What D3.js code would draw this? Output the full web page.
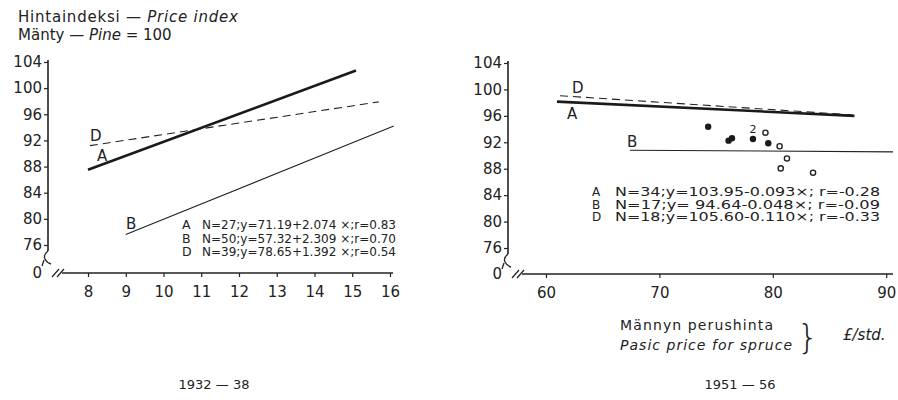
<!DOCTYPE html>
<meta charset="utf-8">
<style>
body { margin: 0; background: #fff; }
svg { font-family: "DejaVu Sans", sans-serif; fill: #222; }
.tick line { stroke: #222; stroke-width: 1.2px; }
.axisline { stroke: #222; stroke-width: 1.6px; fill: none; }
.lineA { stroke: #1a1a1a; stroke-width: 2.6px; fill: none; }
.lineB { stroke: #222; stroke-width: 1.1px; fill: none; }
.lineD { stroke: #222; stroke-width: 1.1px; fill: none; stroke-dasharray: 8,5; }
.it { font-style: italic; }
</style>
<body>
<svg id="graph" width="898" height="400"></svg>
<script src="https://d3js.org/d3.v7.min.js"></script>
<script>

// ---- data: left panel (1932-38) ----
var leftTicksX = [8, 9, 10, 11, 12, 13, 14, 15, 16];
var leftTicksY = [76, 80, 84, 88, 92, 96, 100, 104];
var leftLineA = [[8.0, 87.5], [15.1, 102.7]];
var leftLineB = [[9.0, 77.6], [16.1, 94.2]];
var leftLineD = [[8.05, 91.2], [15.7, 97.9]];
var leftEq = [
  ["A", "N=27;y=71.19+2.074 ×;r=0.83"],
  ["B", "N=50;y=57.32+2.309 ×;r=0.70"],
  ["D", "N=39;y=78.65+1.392 ×;r=0.54"]
];

// ---- data: right panel (1951-56) ----
var rightTicksX = [60, 70, 80, 90];
var rightTicksY = [76, 80, 84, 88, 92, 96, 100, 104];
var rightLineA = [[60.97, 98.15], [87.2, 96.0]];
var rightLineB = [[67.4, 90.8], [90.6, 90.55]];
var rightLineD = [[61.24, 99.05], [87.0, 96.15]];
var filledPts = [[74.3, 94.35], [76.1, 92.25], [76.4, 92.6], [78.25, 92.5], [79.6, 91.85]];
var openPts = [[79.35, 93.45], [80.6, 91.4], [81.25, 89.55], [80.7, 88.05], [83.55, 87.4]];
var rightEq = [
  ["A", "N=34;y=103.95-0.093×;  r=-0.28"],
  ["B", "N=17;y= 94.64-0.048×;  r=-0.09"],
  ["D", "N=18;y=105.60-0.110×;  r=-0.33"]
];

var svg = d3.select("#graph");

function panel(o) {
  var x = d3.scaleLinear().domain(o.xdom).range(o.xr);
  var y = d3.scaleLinear().domain([76, 104]).range(o.yr);
  var g = svg.append("g");

  // y axis
  var ya = g.append("g")
      .attr("transform", "translate(" + o.xr[0] + ",0)")
      .call(d3.axisLeft(y).tickValues(o.ty).tickSize(4).tickPadding(2));
  ya.select(".domain").remove();
  ya.selectAll("text").style("font-size", "15px").style("font-family", "DejaVu Sans").style("fill", "#222");
  g.append("path").attr("class", "axisline")
      .attr("d", "M" + o.xr[0] + "," + (y(104) - 2) + "V" + (y(76) + 6));
  // axis break on y
  var bx = o.xr[0], by = y(76) + 6;
  g.append("path").attr("class", "axisline").style("stroke-width", 1.3)
      .attr("d", "M" + bx + "," + by + " q-5,4 -3,8 q2,4 6,5 M" + (bx - 4) + "," + (by + 9) + " l-2,6");
  g.append("text").attr("x", bx - 6).attr("y", o.y0 + 5)
      .attr("text-anchor", "end").style("font-size", "15px").text("0");

  // x axis
  var xa = g.append("g")
      .attr("transform", "translate(0," + o.y0 + ")")
      .call(d3.axisBottom(x).tickValues(o.tx).tickSize(4).tickPadding(9));
  xa.select(".domain").remove();
  xa.selectAll("text").style("font-size", "15px").style("font-family", "DejaVu Sans").style("fill", "#222");
  g.append("path").attr("class", "axisline")
      .attr("d", "M" + (o.xr[0] + 14) + "," + o.y0 + "H" + o.xr[1]);
  // break marks on x
  g.append("path").attr("class", "axisline").style("stroke-width", 1.2)
      .attr("d", "M" + (o.xr[0] + 4) + "," + (o.y0 + 4) + " l7,-8 M" + (o.xr[0] + 9) + "," + (o.y0 + 4) + " l7,-8");

  var line = d3.line().x(function(d) { return x(d[0]); }).y(function(d) { return y(d[1]); });
  g.append("path").datum(o.A).attr("class", "lineA").attr("d", line);
  g.append("path").datum(o.B).attr("class", "lineB").attr("d", line);
  g.append("path").datum(o.D).attr("class", "lineD").attr("d", line);

  return {g: g, x: x, y: y};
}

// left panel
var L = panel({
  xdom: [6.94, 16.08], xr: [48, 393], yr: [245, 62], y0: 273,
  tx: leftTicksX, ty: leftTicksY,
  A: leftLineA, B: leftLineB, D: leftLineD
});
L.g.append("text").attr("x", 90).attr("y", 141).style("font-size", "15px").text("D");
L.g.append("text").attr("x", 97).attr("y", 161).style("font-size", "15px").text("A");
L.g.append("text").attr("x", 126).attr("y", 229).style("font-size", "15px").text("B");

L.g.selectAll(".eqrow").data(leftEq).enter().append("g").each(function(d, i) {
  var r = d3.select(this);
  r.append("text").attr("x", 182).attr("y", 229 + i * 13.5).style("font-size", "12.5px").text(d[0]);
  r.append("text").attr("x", 202).attr("y", 229 + i * 13.5).style("font-size", "12.5px")
      .attr("textLength", 194).attr("lengthAdjust", "spacingAndGlyphs").text(d[1]);
});

// title
var t1 = svg.append("text").attr("x", 18).attr("y", 22).style("font-size", "15px")
    .attr("textLength", 220);
t1.append("tspan").text("Hintaindeksi — ");
t1.append("tspan").attr("class", "it").text("Price  index");
var t2 = svg.append("text").attr("x", 18).attr("y", 40).style("font-size", "15px");
t2.append("tspan").text("Mänty —  ");
t2.append("tspan").attr("class", "it").text("Pine");
t2.append("tspan").text("  = 100");

// right panel
var R = panel({
  xdom: [56.65, 90.6], xr: [508, 893], yr: [248, 63], y0: 274,
  tx: rightTicksX, ty: rightTicksY,
  A: rightLineA, B: rightLineB, D: rightLineD
});
R.g.append("text").attr("x", 572).attr("y", 93).style("font-size", "15px").text("D");
R.g.append("text").attr("x", 567).attr("y", 119).style("font-size", "15px").text("A");
R.g.append("text").attr("x", 627).attr("y", 147).style("font-size", "15px").text("B");

R.g.selectAll(".fp").data(filledPts).enter().append("circle")
    .attr("cx", function(d) { return R.x(d[0]); })
    .attr("cy", function(d) { return R.y(d[1]); })
    .attr("r", 3.2).style("fill", "#1a1a1a");
R.g.selectAll(".op").data(openPts).enter().append("circle")
    .attr("cx", function(d) { return R.x(d[0]); })
    .attr("cy", function(d) { return R.y(d[1]); })
    .attr("r", 2.6).style("fill", "#fff").style("stroke", "#222").style("stroke-width", 1.4);
R.g.append("text").attr("x", R.x(78.25)).attr("y", R.y(92.5) - 6)
    .attr("text-anchor", "middle").style("font-size", "11px").text("2");

R.g.selectAll(".eqrow").data(rightEq).enter().append("g").each(function(d, i) {
  var r = d3.select(this);
  r.append("text").attr("x", 592).attr("y", 196 + i * 12.5).style("font-size", "12px").text(d[0]);
  r.append("text").attr("x", 615).attr("y", 196 + i * 12.5).style("font-size", "12px")
      .attr("textLength", 265).attr("lengthAdjust", "spacingAndGlyphs").text(d[1]);
});

// x-axis captions
svg.append("text").attr("x", 620).attr("y", 330).style("font-size", "14px")
    .attr("textLength", 153).text("Männyn  perushinta");
svg.append("text").attr("x", 620).attr("y", 350).attr("class", "it").style("font-size", "14px")
    .attr("textLength", 172).text("Pasic  price  for  spruce");
svg.append("text").attr("x", 797).attr("y", 349).style("font-size", "34px").style("font-weight", "200").text("}");
svg.append("text").attr("x", 843).attr("y", 340).attr("class", "it").style("font-size", "15px").text("£/std.");

svg.append("text").attr("x", 214).attr("y", 389).attr("text-anchor", "middle").style("font-size", "13px").text("1932 — 38");
svg.append("text").attr("x", 740).attr("y", 389).attr("text-anchor", "middle").style("font-size", "13px").text("1951 — 56");

</script>
</body>
